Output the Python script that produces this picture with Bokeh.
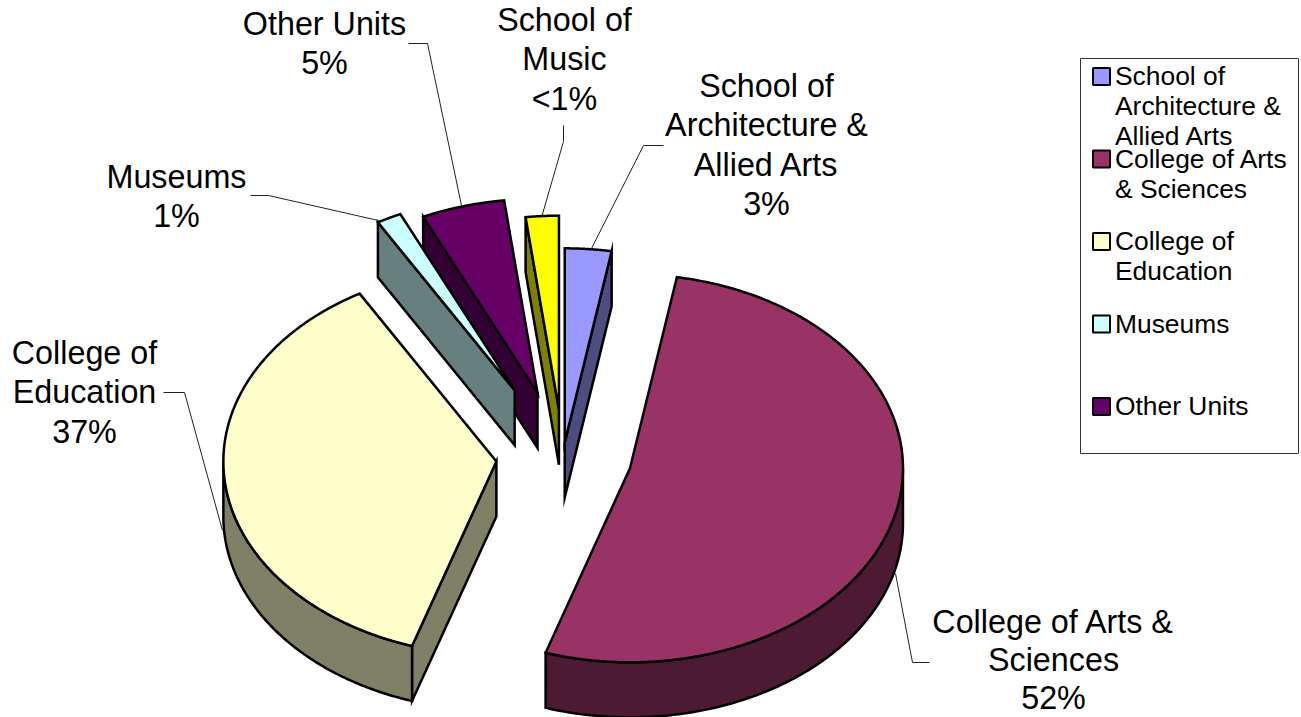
import numpy as np
from bokeh.core.properties import value
from bokeh.embed import file_html
from bokeh.models import Range1d
from bokeh.plotting import figure
from bokeh.resources import INLINE

# ---- data (pie order, clockwise from the top) ----
units = ["School of Architecture & Allied Arts", "College of Arts & Sciences",
         "College of Education", "Museums", "Other Units", "School of Music"]
shares = [2.75, 52.25, 36.65, 1.47, 4.93, 1.95]
explosion = [20, 69, 67, 105, 93, 66]
top_colors = ["#9999FF", "#993366", "#FFFFCC", "#CCFFFF", "#660066", "#FFFF00"]
side_colors = ["#4D4D80", "#4D1A33", "#808066", "#668080", "#330033", "#808000"]
paint_order = [4, 5, 3, 0, 2, 1]

label_lines = [["School of", "Architecture &", "Allied Arts", "3%"],
               ["College of Arts &", "Sciences", "52%"],
               ["College of", "Education", "37%"],
               ["Museums", "1%"],
               ["Other Units", "5%"],
               ["School of", "Music", "<1%"]]
label_x = [766, 1053, 84, 176, 324, 564]
label_first_baseline = [85, 621, 352, 176, 23, 19]
label_step = [39.6, 38.0, 39.6, 39.6, 39.6, 39.6]
leaders_x = [[663, 643, 590], [929, 912, 895], [163, 184, 222],
             [250, 268, 378], [408, 427, 461], [563, 563, 541]]
leaders_y = [[145, 145, 250], [662, 662, 573], [392, 392, 530],
             [195, 195, 220], [43, 43, 205], [125, 141, 217]]

legend_lines = [["School of", "Architecture &", "Allied Arts"],
                ["College of Arts", "& Sciences"],
                ["College of", "Education"],
                ["Museums"],
                ["Other Units"]]
legend_swatch_y = [76, 158.5, 241, 323.5, 406]
legend_first_baseline = [75, 158, 240, 323, 405]

# ---- projection of the tilted pie ----
CX, CY, A, B, DEPTH = 562.5, 456, 273, 194, 55


def project(cx, cy, deg):
    t = np.radians(deg)
    return cx + A * np.sin(t), cy - B * np.cos(t)


p = figure(width=1301, height=717, output_backend="svg", toolbar_location=None,
           x_range=Range1d(0, 1301), y_range=Range1d(717, 0),
           min_border=0, outline_line_color=None, background_fill_color="white")
p.axis.visible = False
p.grid.visible = False

fractions = np.array(shares) / sum(shares) * 360
ends = np.cumsum(fractions)
starts = ends - fractions

line = dict(line_color="black", line_width=2.5, line_join="miter")
for i in paint_order:
    t1, t2 = starts[i], ends[i]
    mid = np.radians((t1 + t2) / 2)
    cx = CX + explosion[i] * np.sin(mid)
    cy = CY - explosion[i] * np.cos(mid) * B / A
    side = side_colors[i]
    # radial walls
    for t, visible in ((t1, np.sin(np.radians(t1)) < 0), (t2, np.sin(np.radians(t2)) > 0)):
        if visible:
            ex, ey = project(cx, cy, t)
            p.patch([cx, ex, ex, cx], [cy, ey, ey + DEPTH, cy + DEPTH],
                    fill_color=side, **line)
    # outer wall (only the part facing the viewer)
    lo, hi = max(t1, 90), min(t2, 270)
    if hi > lo:
        ang = np.linspace(lo, hi, 200)
        ox, oy = project(cx, cy, ang)
        p.patch(np.r_[ox, ox[::-1]], np.r_[oy, oy[::-1] + DEPTH], fill_color=side, **line)
    # top face
    ang = np.linspace(t1, t2, 300)
    ox, oy = project(cx, cy, ang)
    p.patch(np.r_[cx, ox], np.r_[cy, oy], fill_color=top_colors[i], **line)

# leader lines
p.multi_line(leaders_x, leaders_y, line_color="#222222", line_width=1)

# data labels
lx, ly, lt = [], [], []
for x, y0, step, lines in zip(label_x, label_first_baseline, label_step, label_lines):
    for k, s in enumerate(lines):
        lx.append(x)
        ly.append(y0 + k * step)
        lt.append(s)
p.text(lx, ly, text=lt, text_font=value("Liberation Sans"), text_font_size="32.3px",
       text_align="center", text_baseline="alphabetic", text_color="black")

# legend
p.quad(left=[1080], right=[1298], top=[58], bottom=[453], fill_color="white",
       line_color="#333333", line_width=1)
p.rect([1101] * len(legend_swatch_y), legend_swatch_y, width=17, height=17,
       fill_color=top_colors[:5], line_color="black", line_width=2)
tx, ty, tt = [], [], []
for y0, lines in zip(legend_first_baseline, legend_lines):
    for k, s in enumerate(lines):
        tx.append(1114.5)
        ty.append(y0 + k * 30)
        tt.append(s)
p.text(tx, ty, text=tt, text_font=value("Liberation Sans"), text_font_size="26.4px",
       text_align="left", text_baseline="alphabetic", text_color="black")

open("out.html", "w").write(file_html(p, INLINE))
